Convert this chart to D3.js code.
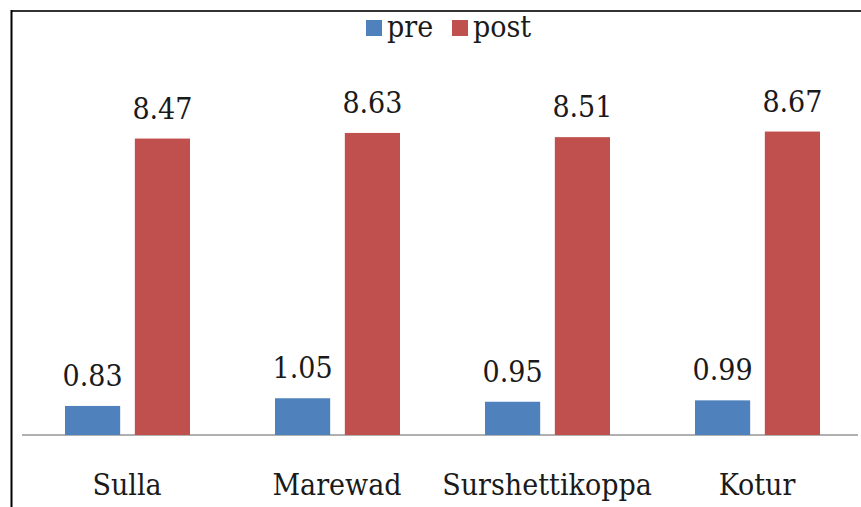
<!DOCTYPE html>
<html>
<head>
<meta charset="utf-8">
<script src="https://cdn.jsdelivr.net/npm/d3@7"></script>
<style>
  html, body { margin: 0; padding: 0; background: #fff; }
  svg { display: block; }
</style>
</head>
<body>
<svg id="chart" width="861" height="507"></svg>
<script>
// Villages and pre/post scores
const categories = ["Sulla", "Marewad", "Surshettikoppa", "Kotur"];
const seriesNames = ["pre", "post"];
const preValues = [0.83, 1.05, 0.95, 0.99];
const postValues = [8.47, 8.63, 8.51, 8.67];
const seriesColors = ["#4F81BD", "#C0504D"];

const FONT = "'DejaVu Serif Condensed', 'DejaVu Serif', serif";
const FONT_SIZE = 30;
const rows = categories.map((c, i) => ({ cat: c, values: [preValues[i], postValues[i]] }));

const svg = d3.select("#chart");
const W = 861, H = 507;

function setFont(sel) {
  return sel.attr("font-family", FONT).attr("font-size", FONT_SIZE)
    .attr("font-stretch", "condensed");
}

// frame lines
svg.append("line").attr("x1", 11).attr("x2", W).attr("y1", 11).attr("y2", 11)
  .attr("stroke", "#333").attr("stroke-width", 2);
svg.append("line").attr("x1", 11.5).attr("x2", 11.5).attr("y1", 10).attr("y2", H)
  .attr("stroke", "#000").attr("stroke-width", 2);

const x0 = d3.scaleBand().domain(categories).range([22, 862]);
const x1 = d3.scaleBand().domain(seriesNames).range([43, 168]).paddingInner(0.21);
const y = d3.scaleLinear().domain([0, 10]).range([435, 85]);

// baseline axis with category labels
const xAxis = d3.axisBottom(x0).tickSize(0).tickPadding(0);
const gx = svg.append("g").attr("transform", `translate(0,${y(0)})`).call(xAxis);
setFont(gx);
gx.select(".domain").attr("stroke", "#b0b0b0").attr("stroke-width", 2).attr("d", "M22,0H858");
gx.selectAll(".tick text")
  .attr("y", 60).attr("dy", 0)
  .attr("fill", "#1a1a1a");

const groups = setFont(svg.append("g"))
  .selectAll("g").data(rows).join("g")
  .attr("transform", d => `translate(${x0(d.cat)},0)`);

groups.each(function(d) {
  const g = d3.select(this);
  d.values.forEach((v, k) => {
    const bx = x1(seriesNames[k]);
    g.append("rect")
      .attr("x", bx).attr("y", y(v))
      .attr("width", x1.bandwidth()).attr("height", y(0) - y(v))
      .attr("fill", seriesColors[k]);
    g.append("text")
      .attr("x", bx + x1.bandwidth() / 2).attr("y", y(v) - 20)
      .attr("text-anchor", "middle")
      .attr("fill", "#1a1a1a")
      .text(v.toFixed(2));
  });
});

// legend
const legend = setFont(svg.append("g"));
const legendX = [366, 452];
seriesNames.forEach((name, k) => {
  legend.append("rect").attr("x", legendX[k]).attr("y", 20).attr("width", 16).attr("height", 16)
    .attr("fill", seriesColors[k]);
  legend.append("text").attr("x", legendX[k] + 21).attr("y", 37)
    .attr("fill", "#1a1a1a").text(name);
});
</script>
</body>
</html>
